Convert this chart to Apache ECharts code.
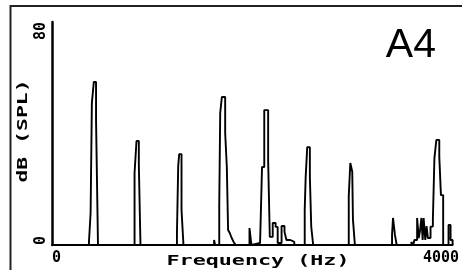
<!DOCTYPE html>
<html>
<head>
<meta charset="utf-8">
<script src="https://cdn.jsdelivr.net/npm/echarts@6/dist/echarts.min.js"></script>
<style>
html, body { margin: 0; padding: 0; background: #fff; }
#spectrum { width: 462px; height: 270px; }
</style>
</head>
<body>
<div id="spectrum"></div>
<script>
// spectrum of A4 (bin start frequency in Hz, level in dB SPL)
var freqHz = [0, 380, 397, 410, 430, 453, 473,
    849, 869, 893, 910,
    1285, 1298, 1308, 1332, 1352,
    1667, 1677, 1720, 1730, 1747, 1781, 1798, 1811, 1828, 1848, 1868, 1888,
    2031, 2051, 2071, 2140, 2160, 2183, 2223, 2240, 2270, 2300, 2321, 2361, 2391, 2411, 2451, 2492,
    2599, 2609, 2625, 2652, 2666, 2686,
    3010, 3030, 3052, 3068, 3088, 3095, 3115,
    3497, 3507, 3527, 3545,
    3696, 3716, 3727, 3755, 3772, 3786, 3799, 3812, 3822, 3839, 3852, 3866, 3893, 3917, 3933, 3953, 3983, 4000, 4023,
    4078, 4099, 4120];
var levelDb = [0, 1.1, 11.5, 50.9, 58.5, 44.8, 0,
    25.8, 37.3, 28.7, 0,
    4.3, 28.3, 32.6, 12.6, 0,
    1.8, 0, 14, 47.4, 53.1, 40.2, 28, 5.4, 4.3, 2.5, 1.1, 0,
    6.1, 0, 0.7, 0, 28, 48.4, 30.1, 2.9, 7.9, 6.5, 0.7, 6.8, 4.7, 1.8, 1.1, 0,
    12.6, 24.5, 35.1, 24.5, 6.6, 0,
    0.7, 0, 17.6, 29.4, 26.3, 9.2, 0,
    3.6, 9.7, 3.6, 0,
    1.1, 0, 1.8, 9.7, 2.5, 5.4, 9.7, 1.8, 9.7, 1.8, 6.8, 2.5, 6.6, 9, 31.2, 37.7, 31.7, 17.9, 0,
    7.2, 1.8, 0];
var xTicks = [0, 4000];
var yTicks = [0, 80];
var noteName = 'A4';

var monoFont = '"DejaVu Sans Mono", "Liberation Mono", monospace';

var points = [];
for (var i = 0; i < freqHz.length; i++) {
    points.push([freqHz[i], levelDb[i]]);
}

var chart = echarts.init(document.getElementById('spectrum'));
var option = {
    animation: false,
    backgroundColor: '#fff',
    title: {
        text: noteName,
        right: 21,
        top: 20,
        textStyle: {
            fontFamily: '"Liberation Sans", Arial, sans-serif',
            fontWeight: 'normal',
            fontSize: 41,
            color: '#000'
        }
    },
    grid: {
        left: 52,
        right: 0,
        top: 22,
        bottom: 25
    },
    xAxis: {
        type: 'value',
        min: xTicks[0],
        max: 4120,
        interval: xTicks[1] - xTicks[0],
        splitLine: { show: false },
        axisTick: { show: false },
        axisLine: { lineStyle: { color: '#000', width: 1.8 } },
        axisLabel: {
            margin: 6,
            showMaxLabel: false,
            alignMinLabel: 'left',
            fontFamily: monoFont,
            fontWeight: 'bold',
            fontSize: 15,
            color: '#000',
            formatter: function (v) {
                return xTicks.indexOf(v) >= 0 ? String(v) : '';
            }
        }
    },
    yAxis: {
        type: 'value',
        min: yTicks[0],
        max: yTicks[1],
        interval: yTicks[1] - yTicks[0],
        splitLine: { show: false },
        axisTick: { show: false },
        axisLine: { lineStyle: { color: '#000', width: 2.5 } },
        axisLabel: {
            rotate: 90,
            margin: 3,
            alignMinLabel: 'left',
            alignMaxLabel: 'right',
            fontFamily: monoFont,
            fontWeight: 'bold',
            fontSize: 15,
            color: '#000'
        }
    },
    graphic: [
        {
            type: 'rect',
            shape: { x: 10.5, y: 6, width: 480, height: 300 },
            style: { fill: 'none', stroke: '#222', lineWidth: 2 },
            silent: true
        },
        {
            type: 'text',
            x: 258,
            y: 261,
            scaleX: 1.55,
            style: {
                text: 'Frequency (Hz)',
                x: 0,
                y: 0,
                align: 'center',
                verticalAlign: 'middle',
                font: 'bold 14px ' + monoFont,
                fill: '#000'
            }
        },
        {
            type: 'text',
            x: 23.5,
            y: 131,
            rotation: Math.PI / 2,
            scaleX: 1.53,
            style: {
                text: 'dB (SPL)',
                x: 0,
                y: 0,
                align: 'center',
                verticalAlign: 'middle',
                font: 'bold 14px ' + monoFont,
                fill: '#000'
            }
        }
    ],
    series: [
        {
            name: noteName,
            type: 'line',
            step: 'end',
            showSymbol: false,
            lineStyle: { color: '#000', width: 1.9 },
            data: points
        }
    ]
};
chart.setOption(option);
</script>
</body>
</html>
